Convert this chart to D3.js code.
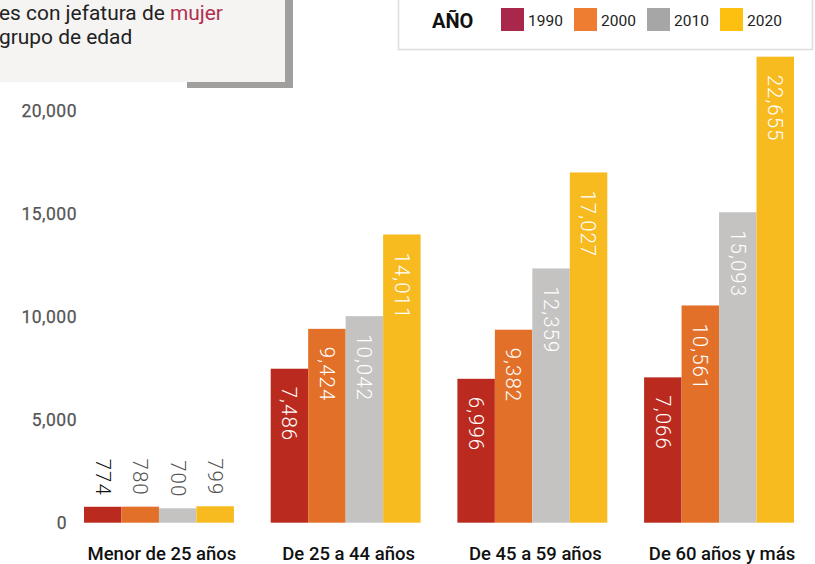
<!DOCTYPE html>
<html>
<head>
<meta charset="utf-8">
<script src="https://cdn.jsdelivr.net/npm/d3@7"></script>
<style>
  html, body { margin: 0; padding: 0; background: #fff; }
  svg { display: block; font-family: Roboto, "Noto Sans", sans-serif; }
</style>
</head>
<body>
<svg id="chart" width="815" height="564"></svg>
<script>
// Households headed by women, by age group and census year
const categories = ["Menor de 25 años", "De 25 a 44 años", "De 45 a 59 años", "De 60 años y más"];
const years = ["1990", "2000", "2010", "2020"];
const v1990 = [774, 7486, 6996, 7066];
const v2000 = [780, 9424, 9382, 10561];
const v2010 = [700, 10042, 12359, 15093];
const v2020 = [799, 14011, 17027, 22655];
const yTicks = [0, 5000, 10000, 15000, 20000];

const seriesValues = [v1990, v2000, v2010, v2020];
const barColors = ["#bb2a1f", "#e27029", "#c4c3c2", "#f7ba1f"];
const legendColors = ["#a8274a", "#ef7d31", "#a6a6a6", "#fdc010"];
const outsideLabelColors = ["#111111", "#555555", "#555555", "#555555"];

const svg = d3.select("#chart");
const fmt = d3.format(",");

const x0 = d3.scaleBand().domain(categories).range([84, 794]).paddingInner(0.197).paddingOuter(0);
const x1 = d3.scaleBand().domain(years).range([0, x0.bandwidth()]).padding(0);
const y = d3.scaleLinear().domain([0, 20000]).range([522.7, 111.3]);

// Title card with drop shadow
const card = svg.append("g");
card.append("rect").attr("x", 187).attr("y", -10).attr("width", 106).attr("height", 98).attr("fill", "#a09f9d");
card.append("rect").attr("x", -10).attr("y", -10).attr("width", 295).attr("height", 92).attr("fill", "#f5f4f2");
const t1 = card.append("text").attr("x", -1).attr("y", 20).attr("font-size", 20.9).attr("fill", "#222");
t1.append("tspan").text("es con jefatura de ");
t1.append("tspan").attr("fill", "#b03050").text("mujer");
card.append("text").attr("x", -1).attr("y", 44).attr("font-size", 20.9).attr("fill", "#222").text("grupo de edad");

// Legend
const legend = svg.append("g");
legend.append("rect").attr("x", 398.5).attr("y", -10).attr("width", 414).attr("height", 59.5)
  .attr("fill", "#fff").attr("stroke", "#dddddd").attr("stroke-width", 1.5);
legend.append("text").attr("x", 432).attr("y", 27.5).attr("font-size", 20).attr("font-weight", "bold")
  .attr("fill", "#111").text("AÑO");
const legendX = d3.scalePoint().domain(years).range([501, 720]);
const li = legend.selectAll("g.item").data(years).join("g").attr("class", "item")
  .attr("transform", d => `translate(${legendX(d)},0)`);
li.append("rect").attr("x", 0).attr("y", 8).attr("width", 23).attr("height", 23)
  .attr("fill", (d, i) => legendColors[i]);
li.append("text").attr("x", 27).attr("y", 26).attr("font-size", 15.5).attr("fill", "#222").text(d => d);

// Y axis labels
const yAxis = svg.append("g").attr("transform", "translate(77,0)")
  .call(d3.axisLeft(y).tickValues(yTicks).tickFormat(fmt).tickSize(0).tickPadding(0));
yAxis.select(".domain").remove();
yAxis.selectAll("text").attr("font-family", "Roboto, sans-serif").attr("font-size", 17.5)
  .attr("font-weight", 400).attr("fill", "#555555").attr("letter-spacing", "0.5px")
  .attr("stroke", "#555555").attr("stroke-width", 0.25);
yAxis.selectAll(".tick").filter(d => d === 0).select("text").attr("dx", -10);

// Category labels
const xAxis = svg.append("g").attr("transform", "translate(3,0)");
xAxis.selectAll("text").data(categories).join("text")
  .attr("x", d => x0(d) + x0.bandwidth() / 2).attr("y", 560)
  .attr("text-anchor", "middle").attr("font-size", 18.5).attr("font-weight", 500).attr("fill", "#111")
  .text(d => d);

// Bars
const rows = [];
categories.forEach((c, ci) => years.forEach((yr, si) => rows.push({ c, yr, si, v: seriesValues[si][ci] })));

const groups = svg.append("g");
groups.selectAll("rect").data(rows).join("rect")
  .attr("x", d => x0(d.c) + x1(d.yr))
  .attr("y", d => y(d.v))
  .attr("width", x1.bandwidth())
  .attr("height", d => y(0) - y(d.v))
  .attr("fill", d => barColors[d.si]);

// Value labels, rotated to read downward
groups.selectAll("text").data(rows).join("text")
  .attr("transform", d => {
    const cx = x0(d.c) + x1(d.yr) + x1.bandwidth() / 2;
    const inside = y(0) - y(d.v) > 80;
    const ty = inside ? y(d.v) + 18 : y(d.v) - 11;
    return `translate(${cx},${ty}) rotate(90)`;
  })
  .attr("text-anchor", d => (y(0) - y(d.v) > 80 ? "start" : "end"))
  .attr("dy", "0.35em")
  .attr("font-size", 20.5).attr("font-weight", 300).attr("letter-spacing", "1px")
  .attr("fill", d => (y(0) - y(d.v) > 80 ? "#ffffff" : outsideLabelColors[d.si]))
  .text(d => fmt(d.v));
</script>
</body>
</html>
